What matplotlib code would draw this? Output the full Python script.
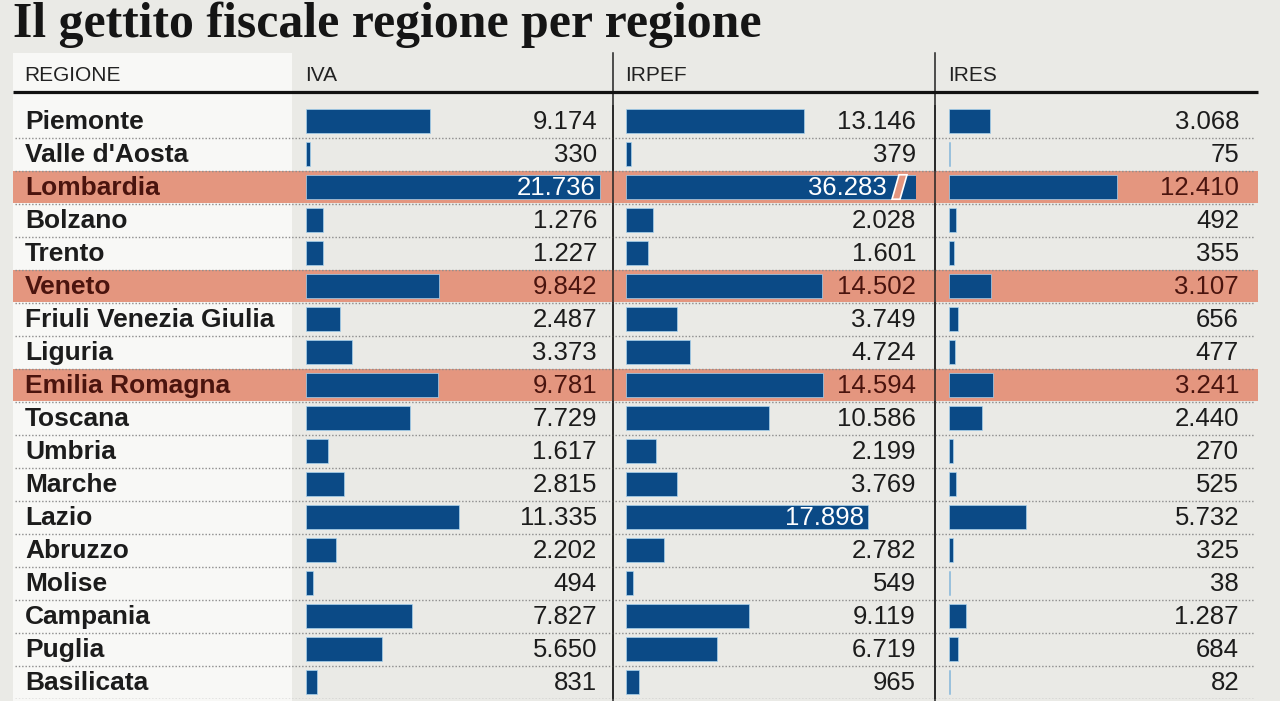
import matplotlib
matplotlib.use("Agg")
import matplotlib.pyplot as plt
from matplotlib.patches import Rectangle, Polygon

# Data (milioni di euro)
regions = ["Piemonte", "Valle d'Aosta", "Lombardia", "Bolzano", "Trento", "Veneto",
           "Friuli Venezia Giulia", "Liguria", "Emilia Romagna", "Toscana", "Umbria",
           "Marche", "Lazio", "Abruzzo", "Molise", "Campania", "Puglia", "Basilicata"]
iva = [9174, 330, 21736, 1276, 1227, 9842, 2487, 3373, 9781, 7729, 1617, 2815,
       11335, 2202, 494, 7827, 5650, 831]
irpef = [13146, 379, 36283, 2028, 1601, 14502, 3749, 4724, 14594, 10586, 2199, 3769,
         17898, 2782, 549, 9119, 6719, 965]
ires = [3068, 75, 12410, 492, 355, 3107, 656, 477, 3241, 2440, 270, 525,
        5732, 325, 38, 1287, 684, 82]
highlight = ["Lombardia", "Veneto", "Emilia Romagna"]
headers = ["REGIONE", "IVA", "IRPEF", "IRES"]
title = "Il gettito fiscale regione per regione"

# Style
BG = "#eaeae6"
WHITE_COL = "#f8f8f6"
SALMON = "#e4967f"
BLUE = "#0b4a86"
TEXT = "#1c1c1c"
TEXT_HL = "#4a140e"
W, H = 1280, 701
ROW_TOP, ROW_H = 104.5, 33.0
UNITS_PER_PX = 74.0
n = len(regions)

# column layout in pixels: bar start, bar area end, label right edge
COLS = [
    {"vals": iva,   "x0": 306, "x1": 610,  "lab": 597},
    {"vals": irpef, "x0": 626, "x1": 916,  "lab": 916},
    {"vals": ires,  "x0": 949, "x1": 1245, "lab": 1239},
]

fig = plt.figure(figsize=(W / 100, H / 100), dpi=100)
fig.patch.set_facecolor(BG)

# Background / page axes in pixel coordinates
bg = fig.add_axes([0, 0, 1, 1], zorder=0)
bg.set_xlim(0, W)
bg.set_ylim(H, 0)
bg.axis("off")

# white region column + header cell
bg.add_patch(Rectangle((13, 53), 279, H - 53, color=WHITE_COL, lw=0, zorder=0))

# title, fitted to width
t = bg.text(13, 37, title, family="Liberation Serif", weight="bold", fontsize=34,
            color="#151515", va="baseline", ha="left")
fig.canvas.draw()
w_px = t.get_window_extent().width
t.set_fontsize(34 * 748 / w_px)

# header texts
hx = [24, 305, 625, 948]
for x, h in zip(hx, headers):
    bg.text(x, 81, h, family="Liberation Sans", fontsize=15, color="#222222",
            va="baseline", ha="left")


def row_axes(z):
    # x in pixels, y in row index
    bottom_px = ROW_TOP + ROW_H * n
    ax = fig.add_axes([0, 1 - bottom_px / H, 1, ROW_H * n / H], zorder=z)
    ax.set_xlim(0, W)
    ax.set_ylim(n - 0.5, -0.5)
    ax.axis("off")
    ax.patch.set_alpha(0)
    return ax


rows_ax = row_axes(1)   # bands and separators, under the bars
lab_ax = row_axes(3)    # labels and lines, over the bars
pos = rows_ax.get_position()

lab_ax.plot([13, 1258], [-0.5 - 12.5 / ROW_H] * 2, color="#111111", lw=2.3,
            solid_capstyle="butt", clip_on=False)
for vx in (613, 935):
    bg.plot([vx, vx], [53, H], color="#222222", lw=1.1, zorder=6)

for i, r in enumerate(regions):
    hl = r in highlight
    if hl:
        rows_ax.add_patch(Rectangle((13, i - 0.47), 1245, 0.94, color=SALMON, lw=0))
    rows_ax.plot([15, 1255], [i + 0.5, i + 0.5], color="#8c8c8c", lw=1.0,
                 linestyle=(0, (1, 1.4)))
    lab_ax.text(25, i + 0.23, r, family="Liberation Sans", weight="bold", fontsize=19,
                color=TEXT_HL if hl else TEXT, va="baseline", ha="left")

# vertical column rules drawn over the bands
for vx in (613, 935):
    lab_ax.plot([vx, vx], [-0.5, n - 0.5], color="#222222", lw=1.1)

# Bar axes, one per tax column, sharing the row scale
for col in COLS:
    width_px = col["x1"] - col["x0"]
    ax = fig.add_axes([col["x0"] / W, pos.y0, width_px / W, pos.height], zorder=2)
    ax.set_xlim(0, width_px * UNITS_PER_PX)
    ax.set_ylim(n - 0.5, -0.5)
    ax.axis("off")
    ax.patch.set_alpha(0)
    ax.barh(range(n), col["vals"], height=0.7, color=BLUE, edgecolor="#a9d3ee",
            linewidth=0.5)

    for i, v in enumerate(col["vals"]):
        hl = regions[i] in highlight
        label = f"{v:,}".replace(",", ".")
        end_px = col["x0"] + v / UNITS_PER_PX
        color = TEXT_HL if hl else TEXT
        x = col["lab"]
        if end_px > col["x1"]:
            # broken bar mark
            bx = col["x1"] - 24
            fill = SALMON if hl else BG
            lab_ax.add_patch(Polygon([(bx, i + 0.37), (bx + 8, i + 0.37),
                                      (bx + 15, i - 0.37), (bx + 7, i - 0.37)],
                                     closed=True, facecolor=fill, edgecolor="white",
                                     lw=1.2))
            x = bx - 5
            color = "white"
        elif end_px > col["lab"] - 80:
            x = min(col["lab"], end_px - 4)
            color = "white"
        lab_ax.text(x, i + 0.25, label, family="Liberation Sans", fontsize=18.5,
                    color=color, va="baseline", ha="right")

fig.savefig("out.png", dpi=100, facecolor=BG)
